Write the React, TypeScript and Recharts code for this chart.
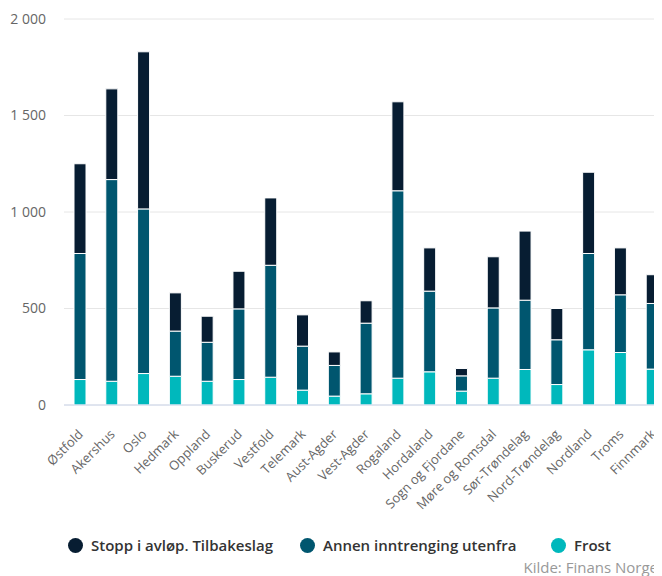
import { Bar, BarChart, CartesianGrid, XAxis, YAxis } from "recharts";

const counties = [
  "Østfold",
  "Akershus",
  "Oslo",
  "Hedmark",
  "Oppland",
  "Buskerud",
  "Vestfold",
  "Telemark",
  "Aust-Agder",
  "Vest-Agder",
  "Rogaland",
  "Hordaland",
  "Sogn og Fjordane",
  "Møre og Romsdal",
  "Sør-Trøndelag",
  "Nord-Trøndelag",
  "Nordland",
  "Troms",
  "Finnmark"
];

const frost = [132, 123, 163, 149, 123, 132, 144, 77, 46, 58, 139, 172, 72, 139, 184, 106, 286, 272, 186];
const annen = [653, 1045, 853, 234, 202, 366, 580, 228, 159, 366, 971, 418, 79, 364, 359, 232, 499, 299, 340];
const stopp = [465, 470, 814, 198, 135, 195, 349, 162, 70, 116, 461, 224, 38, 265, 358, 162, 421, 243, 149];

const yTicks = [0, 500, 1000, 1500, 2000];

const seriesNames = {
  stopp: "Stopp i avløp. Tilbakeslag",
  annen: "Annen inntrenging utenfra",
  frost: "Frost"
};

const colors = {
  stopp: "#071d32",
  annen: "#00566f",
  frost: "#00b8bc"
};

const data = counties.map((name, i) => ({
  name,
  frost: frost[i],
  annen: annen[i],
  stopp: stopp[i]
}));

const font = "'Open Sans', sans-serif";

function formatThousands(v: number) {
  return String(v).replace(/\B(?=(\d{3})+(?!\d))/g, " ");
}

// rotated county names, text ends just right of the bar
function CountyTick({ x, y, payload }: any) {
  const tx = x + 4;
  const ty = y + 30;
  return (
    <text
      x={tx}
      y={ty}
      transform={`rotate(-45 ${tx} ${ty})`}
      textAnchor="end"
      fill="#666666"
      fontSize={13}
      fontFamily={font}
    >
      {payload.value}
    </text>
  );
}

const legendItems: { key: keyof typeof colors; left: number }[] = [
  { key: "stopp", left: 60 },
  { key: "annen", left: 292 },
  { key: "frost", left: 543 }
];

export default function App() {
  return (
    <div style={{ position: "relative", width: 654, height: 568, overflow: "hidden", fontFamily: font }}>
      <BarChart
        width={662}
        height={568}
        data={data}
        margin={{ top: 11, right: 2, left: 0, bottom: 0 }}
        barSize={12}
      >
        <CartesianGrid vertical={false} stroke="#e6e6e6" />
        <XAxis
          dataKey="name"
          interval={0}
          height={171}
          tick={<CountyTick />}
          tickLine={false}
          tickSize={0}
          tickMargin={0}
          axisLine={{ stroke: "#ccd6eb" }}
        />
        <YAxis
          width={56}
          domain={[0, 2000]}
          ticks={yTicks}
          tickFormatter={formatThousands}
          axisLine={false}
          tickLine={false}
          tickSize={0}
          tickMargin={18}
          tick={{ fill: "#666666", fontSize: 14, fontFamily: font }}
        />
        <Bar dataKey="frost" stackId="a" fill={colors.frost} stroke="#ffffff" strokeWidth={1} isAnimationActive={false} />
        <Bar dataKey="annen" stackId="a" fill={colors.annen} stroke="#ffffff" strokeWidth={1} isAnimationActive={false} />
        <Bar dataKey="stopp" stackId="a" fill={colors.stopp} stroke="#ffffff" strokeWidth={1} isAnimationActive={false} />
      </BarChart>
      {legendItems.map((item) => (
        <div
          key={item.key}
          style={{
            position: "absolute",
            left: item.left,
            top: 527,
            display: "flex",
            alignItems: "center",
            gap: 8,
            fontSize: 15,
            fontWeight: 600,
            color: "#333333",
            whiteSpace: "nowrap"
          }}
        >
          <span
            style={{
              width: 15,
              height: 15,
              borderRadius: "50%",
              background: colors[item.key],
              display: "inline-block"
            }}
          />
          {seriesNames[item.key]}
        </div>
      ))}
      <div
        style={{
          position: "absolute",
          right: 4,
          top: 549,
          fontSize: 15,
          color: "#999999",
          whiteSpace: "nowrap"
        }}
      >
        Kilde: Finans Norge
      </div>
    </div>
  );
}
